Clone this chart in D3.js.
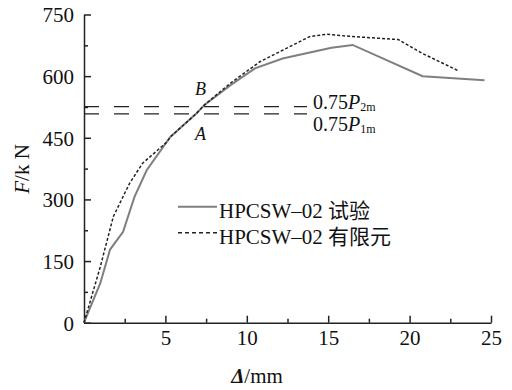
<!DOCTYPE html>
<meta charset="utf-8">
<html>
<script src="https://d3js.org/d3.v7.min.js"></script>
<style>
  body { margin: 0; background: #fff; }
  text { font-family: "Liberation Serif", "Times New Roman", "Noto Sans CJK SC", serif; }
</style>
<body>
<div id="chart"></div>
<script>
// test curve (试验)
const testDisp  = [0, 1.0, 1.6, 2.4, 3.1, 3.85, 5.3, 6.9, 7.4, 9.0, 10.5, 12.2, 15.2, 16.5, 20.8, 24.6];
const testForce = [0, 96, 178, 221, 306, 371, 452, 509, 530, 578, 619, 643, 669, 676, 600, 590];
// finite element curve (有限元)
const feDisp  = [0, 1.0, 1.8, 2.5, 2.8, 3.6, 5.1, 5.3, 6.9, 7.4, 9.0, 10.8, 12.2, 13.85, 14.9, 16.3, 19.3, 20.8, 23.0];
const feForce = [0, 136, 258, 315, 339, 388, 440, 452, 509, 530, 583, 635, 663, 696, 702, 697, 689, 655, 613];
// 0.75 Pm levels
const levels = [526, 508];
const xTicks = [5, 10, 15, 20, 25];
const yTicks = [0, 150, 300, 450, 600, 750];
const legendNames = ["HPCSW\u201302 试验", "HPCSW\u201302 有限元"];

const W = 512, H = 390;
const svg = d3.select("#chart").append("svg")
  .attr("width", W).attr("height", H);

const x = d3.scaleLinear().domain([0, 25]).range([84, 491]);
const y = d3.scaleLinear().domain([0, 750]).range([322.7, 14.5]);

// minor ticks
svg.append("g")
  .attr("transform", `translate(0,${y(0)})`)
  .call(d3.axisBottom(x).tickValues(d3.range(2.5, 25, 5)).tickSize(-4).tickFormat(""))
  .call(g => g.select(".domain").remove());
svg.append("g")
  .attr("transform", `translate(${x(0)},0)`)
  .call(d3.axisLeft(y).tickValues(d3.range(75, 750, 150)).tickSize(-4).tickFormat(""))
  .call(g => g.select(".domain").remove());

// x axis
const xa = svg.append("g")
  .attr("transform", `translate(0,${y(0)})`)
  .call(d3.axisBottom(x).tickValues(xTicks).tickSizeInner(-7).tickSizeOuter(0).tickPadding(7.5));
// y axis
const ya = svg.append("g")
  .attr("transform", `translate(${x(0)},0)`)
  .call(d3.axisLeft(y).tickValues(yTicks).tickSizeInner(-7).tickSizeOuter(0).tickPadding(10));

[xa, ya].forEach(g => {
  g.selectAll("text").attr("font-size", 21).attr("fill", "#111")
    .style("font-family", "'Liberation Serif', serif");
});
svg.selectAll("g path, g line").attr("stroke", "#222").attr("stroke-width", 1.5);
ya.selectAll("text").attr("dy", "0.35em");

// dashed reference lines
svg.selectAll(".lvl").data(levels).join("line")
  .attr("x1", x(0)).attr("x2", 307)
  .attr("y1", d => y(d)).attr("y2", d => y(d))
  .attr("stroke", "#222").attr("stroke-width", 1.3)
  .attr("stroke-dasharray", "15,15");

const line = d3.line().x(d => x(d[0])).y(d => y(d[1]));

svg.append("path")
  .datum(testDisp.map((d, i) => [d, testForce[i]]))
  .attr("d", line).attr("fill", "none")
  .attr("stroke", "#7f7f7f").attr("stroke-width", 2);

svg.append("path")
  .datum(feDisp.map((d, i) => [d, feForce[i]]))
  .attr("d", line).attr("fill", "none")
  .attr("stroke", "#222").attr("stroke-width", 1.5)
  .attr("stroke-dasharray", "3,2");

// level labels
const lab = [["2m", 109], ["1m", 131]];
lab.forEach(([sub, yy]) => {
  const t = svg.append("text").attr("x", 313).attr("y", yy)
    .attr("font-size", 20).attr("fill", "#111");
  t.append("tspan").text("0.75");
  t.append("tspan").attr("font-style", "italic").text("P");
  t.append("tspan").attr("font-size", 12).attr("dy", 2).text(sub);
});

// point labels
svg.append("text").attr("x", 195).attr("y", 95).attr("font-size", 18)
  .attr("font-style", "italic").attr("fill", "#111").text("B");
svg.append("text").attr("x", 195).attr("y", 140).attr("font-size", 18)
  .attr("font-style", "italic").attr("fill", "#111").text("A");

// legend
const leg = svg.append("g");
legendNames.forEach((name, i) => {
  const ly = 206.7 + i * 26;
  leg.append("line").attr("x1", 178).attr("x2", 217).attr("y1", ly).attr("y2", ly)
    .attr("stroke", i === 0 ? "#7f7f7f" : "#222")
    .attr("stroke-width", i === 0 ? 2 : 1.5)
    .attr("stroke-dasharray", i === 0 ? null : "4,3");
  leg.append("text").attr("x", 219).attr("y", ly + 11.5)
    .attr("font-size", 21).attr("fill", "#111").text(name);
});

// axis titles
const xt = svg.append("text").attr("x", 257).attr("y", 383)
  .attr("text-anchor", "middle").attr("font-size", 21).attr("fill", "#111");
xt.append("tspan").attr("font-style", "italic").attr("font-weight", "bold").text("\u0394");
xt.append("tspan").text("/mm");

const yt = svg.append("text").attr("transform", "translate(29,169) rotate(-90)")
  .attr("text-anchor", "middle").attr("font-size", 21).attr("fill", "#111");
yt.append("tspan").attr("font-style", "italic").text("F");
yt.append("tspan").text("/k N");
</script>
</body>
</html>
